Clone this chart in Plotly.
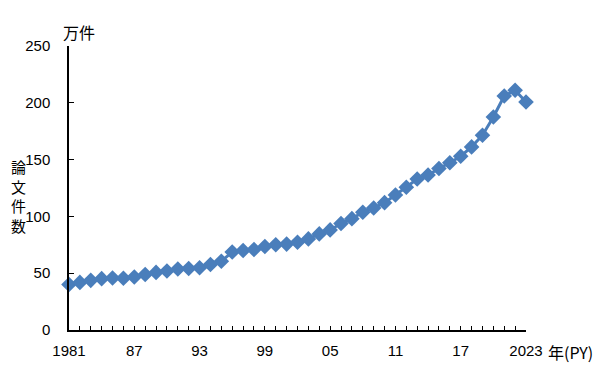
import plotly.graph_objects as go

years = list(range(1981, 2024))
papers = [40.0, 41.9, 43.7, 45.2, 45.8, 45.6, 46.6, 48.9, 50.7, 51.9,
          53.7, 54.2, 54.8, 57.7, 60.5, 68.6, 70.0, 70.8, 73.5, 75.0,
          75.6, 77.3, 80.2, 84.6, 88.1, 93.7, 98.0, 103.7, 107.4, 112.1,
          118.8, 125.6, 132.9, 136.4, 142.2, 147.2, 153.0, 161.2, 171.5, 187.5,
          206.0, 211.0, 200.7]
tick_labels = {1981: "1981", 1987: "87", 1993: "93", 1999: "99",
               2005: "05", 2011: "11", 2017: "17", 2023: "2023"}
y_ticks = [0, 50, 100, 150, 200, 250]

FONT = "Noto Sans CJK JP, Liberation Sans, sans-serif"
NUMFONT = "Liberation Sans, Arial, sans-serif"
color = "#4A7EBB"

fig = go.Figure()
fig.add_trace(go.Scatter(
    x=years, y=papers, mode="lines+markers",
    line=dict(color=color, width=3),
    marker=dict(symbol="diamond", size=12, color=color),
    cliponaxis=False, showlegend=False,
))

W, H = 600, 367
L, R, T, B = 69, 74, 46, 37

fig.update_layout(
    width=W, height=H,
    margin=dict(l=L, r=R, t=T, b=B),
    paper_bgcolor="white", plot_bgcolor="white",
    font=dict(family=FONT, size=15, color="black"),
    xaxis=dict(
        range=[1981, 2023], tickmode="array",
        tickvals=years, ticktext=[tick_labels.get(y, "") for y in years],
        ticks="inside", ticklen=4, tickcolor="black", tickwidth=1,
        showline=True, linecolor="black", linewidth=1.5,
        showgrid=False, zeroline=False, automargin=False,
        tickfont=dict(family=NUMFONT, size=15),
        ticklabelstandoff=6,
    ),
    yaxis=dict(
        range=[0, 250], tickmode="array", tickvals=y_ticks,
        ticks="inside", ticklen=5, tickcolor="black", tickwidth=1,
        showline=True, linecolor="black", linewidth=1.5,
        showgrid=False, zeroline=False, automargin=False,
        tickfont=dict(family=NUMFONT, size=15),
        ticklabelstandoff=14,
    ),
    annotations=[
        dict(text="万件", xref="paper", yref="paper",
             x=(79 - L) / (W - L - R), y=(H - B - 32) / (H - T - B),
             xanchor="center", yanchor="middle", showarrow=False,
             font=dict(size=16)),
        dict(text="論<br>文<br>件<br>数", xref="paper", yref="paper",
             x=(18 - L) / (W - L - R), y=(H - B - 196) / (H - T - B),
             xanchor="center", yanchor="middle", showarrow=False,
             font=dict(size=15)),
        dict(text="年(PY)", xref="paper", yref="paper",
             x=(546 - L) / (W - L - R), y=(H - B - 352) / (H - T - B),
             xanchor="left", yanchor="middle", showarrow=False,
             font=dict(size=16)),
    ],
)

fig.write_html("out.html")
